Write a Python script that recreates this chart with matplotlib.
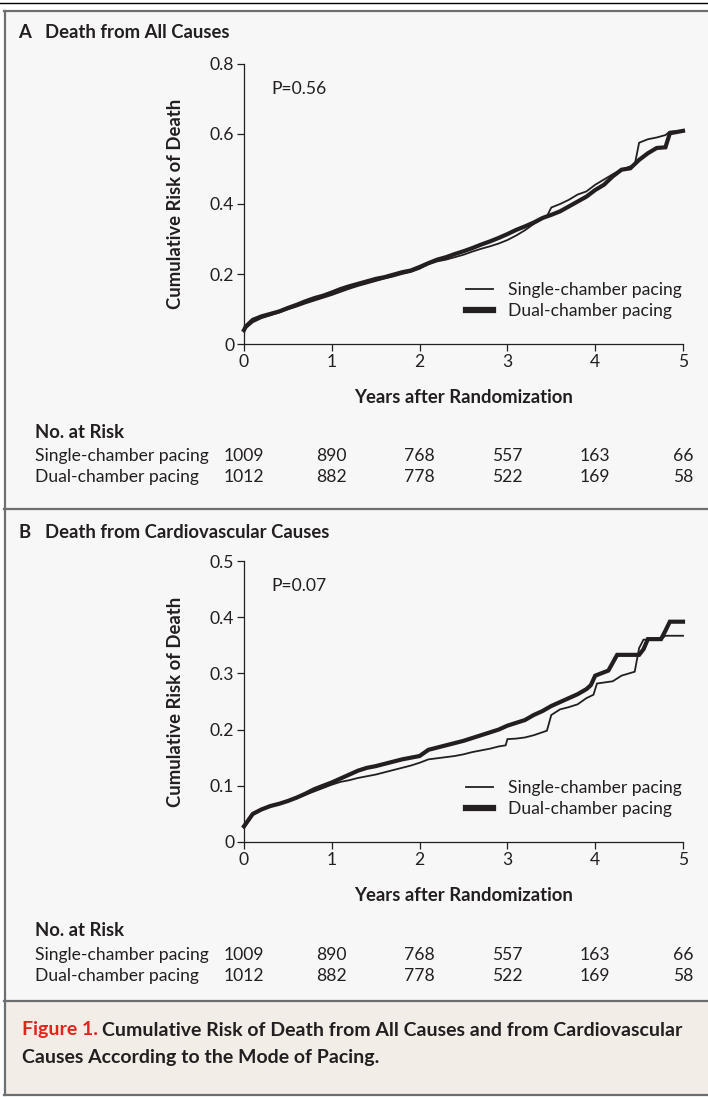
import matplotlib
matplotlib.use('Agg')
import matplotlib.pyplot as plt
from matplotlib.lines import Line2D
from matplotlib.patches import Rectangle
from matplotlib.transforms import blended_transform_factory

W, H = 708, 1097
INK = '#231f20'
BORDER = '#6d6e70'
PANEL_BG = '#f7f7f7'
CAPTION_BG = '#f2ede7'
RED = '#e2231a'
FS = 12.6  # body text size

plt.rcParams['font.family'] = ['Lato', 'DejaVu Sans']

# ---- data ----
years = [0, 1, 2, 3, 4, 5]
risk_single = [1009, 890, 768, 557, 163, 66]
risk_dual = [1012, 882, 778, 522, 169, 58]

# panel A: death from all causes
a_t_single = [0, 0.02, 0.1, 0.2, 0.3, 0.4, 0.5, 0.6, 0.7, 0.8, 0.9, 1.0, 1.1, 1.2, 1.3, 1.4,
              1.5, 1.6, 1.7, 1.8, 1.9, 2.0, 2.1, 2.2, 2.3, 2.4, 2.5, 2.6, 2.7, 2.8, 2.9, 3.0,
              3.1, 3.2, 3.3, 3.45, 3.5, 3.6, 3.7, 3.8, 3.9, 4.0, 4.1, 4.2, 4.3, 4.45, 4.5,
              4.6, 4.7, 4.8, 4.85, 5.0]
a_single = [0.035, 0.045, 0.062, 0.074, 0.082, 0.090, 0.099, 0.107, 0.116, 0.124, 0.132, 0.140,
            0.149, 0.158, 0.166, 0.173, 0.180, 0.187, 0.193, 0.200, 0.206, 0.215, 0.228, 0.236,
            0.241, 0.248, 0.255, 0.264, 0.272, 0.279, 0.287, 0.297, 0.310, 0.325, 0.343, 0.365,
            0.390, 0.400, 0.412, 0.427, 0.436, 0.455, 0.470, 0.485, 0.498, 0.512, 0.575, 0.585,
            0.590, 0.597, 0.607, 0.609]
a_t_dual = [0, 0.02, 0.1, 0.2, 0.3, 0.4, 0.5, 0.6, 0.7, 0.8, 0.9, 1.0, 1.1, 1.2, 1.3, 1.4, 1.5,
            1.6, 1.7, 1.8, 1.9, 2.0, 2.1, 2.2, 2.3, 2.4, 2.5, 2.6, 2.7, 2.8, 2.9, 3.0, 3.1, 3.2,
            3.3, 3.4, 3.5, 3.6, 3.7, 3.8, 3.9, 4.0, 4.1, 4.2, 4.3, 4.4, 4.5, 4.6, 4.7, 4.8,
            4.85, 5.0]
a_dual = [0.040, 0.050, 0.069, 0.079, 0.086, 0.093, 0.103, 0.112, 0.122, 0.131, 0.138, 0.147,
          0.157, 0.165, 0.172, 0.179, 0.186, 0.191, 0.198, 0.205, 0.210, 0.220, 0.231, 0.241,
          0.248, 0.257, 0.265, 0.274, 0.284, 0.293, 0.303, 0.314, 0.326, 0.336, 0.347, 0.360,
          0.369, 0.379, 0.393, 0.407, 0.421, 0.440, 0.455, 0.479, 0.498, 0.502, 0.526, 0.545,
          0.560, 0.562, 0.602, 0.609]

# panel B: death from cardiovascular causes
b_t_single = [0, 0.1, 0.2, 0.3, 0.4, 0.5, 0.6, 0.7, 0.8, 0.9, 1.0, 1.1, 1.2, 1.3, 1.4, 1.5,
              1.6, 1.7, 1.8, 1.9, 2.0, 2.1, 2.2, 2.3, 2.4, 2.5, 2.6, 2.7, 2.8, 2.9, 2.98, 3.0,
              3.1, 3.2, 3.3, 3.45, 3.5, 3.6, 3.7, 3.8, 3.9, 3.98, 4.02, 4.2, 4.3, 4.45, 4.5,
              4.55, 4.75, 4.8, 5.0]
b_single = [0.025, 0.048, 0.057, 0.063, 0.068, 0.073, 0.078, 0.084, 0.090, 0.096, 0.102, 0.107,
            0.110, 0.114, 0.117, 0.120, 0.124, 0.128, 0.132, 0.136, 0.141, 0.147, 0.149, 0.151,
            0.153, 0.156, 0.160, 0.163, 0.166, 0.170, 0.172, 0.183, 0.184, 0.186, 0.190, 0.198,
            0.226, 0.236, 0.240, 0.245, 0.256, 0.262, 0.282, 0.286, 0.296, 0.303, 0.345, 0.360,
            0.361, 0.367, 0.367]
b_t_dual = [0, 0.1, 0.2, 0.3, 0.4, 0.5, 0.6, 0.7, 0.8, 0.9, 1.0, 1.1, 1.2, 1.3, 1.4, 1.5, 1.6,
            1.7, 1.8, 1.9, 2.0, 2.1, 2.2, 2.3, 2.4, 2.5, 2.6, 2.7, 2.8, 2.9, 3.0, 3.1, 3.2, 3.3,
            3.4, 3.5, 3.6, 3.7, 3.8, 3.9, 3.95, 4.0, 4.15, 4.25, 4.5, 4.55, 4.6, 4.75, 4.8,
            4.85, 5.0]
b_dual = [0.028, 0.050, 0.058, 0.064, 0.068, 0.073, 0.079, 0.086, 0.094, 0.100, 0.106, 0.113,
          0.120, 0.127, 0.132, 0.135, 0.139, 0.143, 0.147, 0.150, 0.153, 0.164, 0.168, 0.172,
          0.176, 0.180, 0.185, 0.190, 0.195, 0.200, 0.207, 0.212, 0.217, 0.226, 0.233, 0.242,
          0.249, 0.256, 0.263, 0.272, 0.279, 0.296, 0.305, 0.333, 0.333, 0.343, 0.361, 0.361,
          0.376, 0.392, 0.392]


def fx(x):
    return x / W


def fy(y):
    return 1 - y / H


def draw_panel(ax, ts, single, td, dual, ymax, ystep, pval, title_y, letter, title):
    ax.set_facecolor('none')
    ax.plot(ts, single, color=INK, lw=1.3, solid_joinstyle='miter', clip_on=False)
    ax.plot(td, dual, color=INK, lw=3.0, solid_joinstyle='miter', clip_on=False)
    ax.set_xlim(0, 5)
    ax.set_ylim(0, ymax)
    yt = [round(i * ystep, 2) for i in range(int(round(ymax / ystep)) + 1)]
    ax.set_yticks(yt)
    ax.set_yticklabels(['0' if v == 0 else f'{v:g}' for v in yt])
    ax.set_xticks(years)
    for s in ['top', 'right']:
        ax.spines[s].set_visible(False)
    for s in ['left', 'bottom']:
        ax.spines[s].set_color(INK)
        ax.spines[s].set_linewidth(0.9)
    ax.tick_params(direction='out', length=5, width=0.9, color=INK, labelcolor=INK,
                   labelsize=FS, pad=2)
    ax.set_ylabel('Cumulative Risk of Death', fontsize=13.3, fontweight='bold', color=INK)
    ax.yaxis.set_label_coords(-0.137, 0.5)
    ax.set_xlabel('Years after Randomization', fontsize=13.3, fontweight='bold', color=INK)
    ax.xaxis.set_label_coords(0.5, -0.16)
    ax.text(0.062, 0.91, pval, transform=ax.transAxes, fontsize=FS, color=INK, va='center')

    handles = [Line2D([], [], color=INK, lw=1.3), Line2D([], [], color=INK, lw=4.5)]
    ax.legend(handles, ['Single-chamber pacing', 'Dual-chamber pacing'],
              loc='lower left', bbox_to_anchor=(0.506, 0.088), frameon=False,
              fontsize=FS, handlelength=1.55, handletextpad=0.85, labelspacing=0.3,
              borderpad=0, borderaxespad=0, labelcolor=INK)

    fig.text(fx(18), fy(title_y), letter, fontsize=13.3, fontweight='bold', color=INK, va='center')
    fig.text(fx(45), fy(title_y), title, fontsize=13.3, fontweight='bold', color=INK, va='center')

    # numbers at risk
    tr = blended_transform_factory(ax.transData, fig.transFigure)
    base = title_y + 399
    fig.text(fx(35), fy(base), 'No. at Risk', fontsize=13.3, fontweight='bold', color=INK, va='center')
    for name, row, yy in [('Single-chamber pacing', risk_single, base + 24),
                          ('Dual-chamber pacing', risk_dual, base + 45)]:
        fig.text(fx(35), fy(yy), name, fontsize=FS, color=INK, va='center')
        for x, n in zip(years, row):
            ax.text(x, fy(yy), str(n), transform=tr, fontsize=FS,
                    color=INK, ha='center', va='center', clip_on=False)


fig = plt.figure(figsize=(W / 100, H / 100), dpi=100)
fig.patch.set_facecolor('white')

# background boxes and rules
fig.add_artist(Rectangle((fx(5), fy(1001)), 1, fy(11) - fy(1001), transform=fig.transFigure,
                         facecolor=PANEL_BG, edgecolor='none', zorder=0))
fig.add_artist(Rectangle((fx(5), fy(1095)), 1, fy(1001) - fy(1095), transform=fig.transFigure,
                         facecolor=CAPTION_BG, edgecolor='none', zorder=0))
fig.add_artist(Line2D([0, 1], [fy(2.5), fy(2.5)], transform=fig.transFigure, color='black', lw=1.0))
for yy in [11, 509, 1001, 1095]:
    fig.add_artist(Line2D([fx(4), 1], [fy(yy), fy(yy)], transform=fig.transFigure,
                          color=BORDER, lw=1.6))
fig.add_artist(Line2D([fx(5), fx(5)], [fy(11), fy(1095)], transform=fig.transFigure,
                      color=BORDER, lw=1.6))

ax_a = fig.add_axes([fx(244), fy(344), fx(683) - fx(244), fy(64) - fy(344)])
ax_b = fig.add_axes([fx(244), fy(842), fx(683) - fx(244), fy(561) - fy(842)])

draw_panel(ax_a, a_t_single, a_single, a_t_dual, a_dual, 0.8, 0.2, 'P=0.56', 33, 'A',
           'Death from All Causes')
draw_panel(ax_b, b_t_single, b_single, b_t_dual, b_dual, 0.5, 0.1, 'P=0.07', 532, 'B',
           'Death from Cardiovascular Causes')

# caption
cap1 = fig.text(fx(22), fy(1030), 'Figure 1.', fontsize=14, fontweight='bold', color=RED, va='center')
fig.canvas.draw()
bb = cap1.get_window_extent()
fig.text(bb.x1 / W + 0.006, fy(1030), 'Cumulative Risk of Death from All Causes and from Cardiovascular',
         fontsize=14, fontweight='bold', color=INK, va='center')
fig.text(fx(22), fy(1058), 'Causes According to the Mode of Pacing.', fontsize=14,
         fontweight='bold', color=INK, va='center')

fig.savefig('out.png', dpi=100)
